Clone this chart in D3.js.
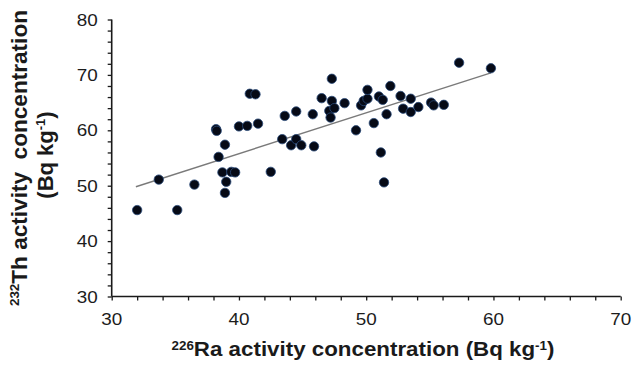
<!DOCTYPE html>
<html>
<head>
<meta charset="utf-8">
<script src="https://cdn.jsdelivr.net/npm/d3@7"></script>
<style>
  html, body { margin: 0; padding: 0; background: #fff; }
  svg { display: block; font-family: "Liberation Sans", Arial, sans-serif; }
</style>
</head>
<body>
<svg id="chart" width="633" height="365"></svg>
<script>
// 226Ra activity concentration (Bq/kg)
const raValues = [32.0, 33.7, 35.15, 36.5, 38.2, 38.25, 38.4, 38.9, 38.7, 39.0, 38.9, 39.4, 39.7,
  40.0, 40.65, 40.85, 41.3, 41.5, 42.5, 43.4, 43.6, 44.1, 44.5, 44.5, 44.9, 45.8, 45.9,
  46.5, 47.3, 47.3, 47.1, 47.5, 47.2, 48.3, 49.2, 49.6, 49.8, 50.1, 50.1, 50.6, 51.0,
  51.3, 51.6, 51.15, 51.4, 51.9, 52.7, 52.9, 53.5, 53.5, 54.1, 55.1, 55.3, 56.1, 57.3, 59.8];
// 232Th activity concentration (Bq/kg)
const thValues = [45.6, 51.1, 45.6, 50.2, 60.2, 59.9, 55.2, 57.4, 52.4, 50.7, 48.7, 52.5, 52.4,
  60.7, 60.8, 66.6, 66.5, 61.2, 52.5, 58.4, 62.6, 57.3, 58.4, 63.4, 57.3, 62.9, 57.1,
  65.8, 69.3, 65.3, 63.5, 64.0, 62.3, 64.9, 60.0, 64.5, 65.3, 65.7, 67.3, 61.3, 66.1,
  65.5, 62.9, 56.0, 50.6, 68.0, 66.2, 63.9, 65.7, 63.3, 64.2, 65.0, 64.5, 64.6, 72.2, 71.2];
// Linear trend line: Th = intercept + slope * Ra
const trendRange = [31.9, 59.8];
const trendSlope = 0.737;
const trendIntercept = 26.3;

const xTicks = [30, 40, 50, 60, 70];
const yTicks = [30, 40, 50, 60, 70, 80];
const xMinorTicks = d3.range(30, 70.1, 2);
const yMinorTicks = d3.range(30, 80.1, 2);

const svg = d3.select("#chart");
const x = d3.scaleLinear().domain([30, 70]).range([111.7, 620.7]);
const y = d3.scaleLinear().domain([30, 80]).range([296.5, 19.5]);

const axisColor = "#1a1a1a";

// X axis
const gx = svg.append("g").attr("transform", `translate(0,${y(30)})`);
gx.call(d3.axisBottom(x).tickValues(xMinorTicks).tickSize(4).tickFormat(""));
gx.selectAll("path.domain").remove();
gx.selectAll("line").attr("stroke", axisColor).attr("stroke-width", 1.3);
gx.append("line").attr("x1", x(30)).attr("x2", x(70)).attr("stroke", axisColor).attr("stroke-width", 1.6);
gx.selectAll("text.tl").data(xTicks).enter().append("text").attr("class", "tl")
  .attr("x", d => x(d)).attr("y", 28).attr("text-anchor", "middle")
  .attr("font-size", 17).attr("fill", "#1c1c1c")
  .attr("textLength", 21).attr("lengthAdjust", "spacingAndGlyphs").text(d => d);

// Y axis
const gy = svg.append("g").attr("transform", `translate(${x(30)},0)`);
gy.call(d3.axisLeft(y).tickValues(yMinorTicks).tickSize(4).tickFormat(""));
gy.selectAll("path.domain").remove();
gy.selectAll("line").attr("stroke", axisColor).attr("stroke-width", 1.3);
gy.append("line").attr("y1", y(30)).attr("y2", y(80)).attr("stroke", axisColor).attr("stroke-width", 1.6);
gy.selectAll("text.tl").data(yTicks).enter().append("text").attr("class", "tl")
  .attr("x", -14).attr("y", d => y(d)).attr("dy", "0.36em").attr("text-anchor", "end")
  .attr("font-size", 17).attr("fill", "#1c1c1c")
  .attr("textLength", 21).attr("lengthAdjust", "spacingAndGlyphs").text(d => d);

// Trend line
svg.append("line")
  .attr("x1", x(trendRange[0])).attr("y1", y(trendIntercept + trendSlope * trendRange[0]))
  .attr("x2", x(trendRange[1])).attr("y2", y(trendIntercept + trendSlope * trendRange[1]))
  .attr("stroke", "#7a7a7a").attr("stroke-width", 1.4);

// Points
const pts = raValues.map((r, i) => ({ r, t: thValues[i] }));
svg.append("g").selectAll("circle").data(pts).enter().append("circle")
  .attr("cx", d => x(d.r)).attr("cy", d => y(d.t)).attr("r", 4.7)
  .attr("fill", "#060a16").attr("stroke", "#2a4a7a").attr("stroke-width", 0.8);

// X title
const xt = svg.append("text").attr("x", 363).attr("y", 356).attr("text-anchor", "middle")
  .attr("font-size", 20).attr("font-weight", "bold").attr("fill", "#1a1a1a");
xt.append("tspan").attr("font-size", 12).attr("dy", -6).text("226");
xt.append("tspan").attr("dy", 6).text("Ra activity concentration (Bq kg");
xt.append("tspan").attr("font-size", 12).attr("dy", -6).text("-1");
xt.append("tspan").attr("dy", 6).text(")");
xt.attr("textLength", 383).attr("lengthAdjust", "spacingAndGlyphs");

// Y title (two lines, rotated)
const yt1 = svg.append("text").attr("transform", "translate(27,158) rotate(-90)")
  .attr("text-anchor", "middle").attr("font-size", 22).attr("font-weight", "bold").attr("fill", "#1a1a1a");
yt1.append("tspan").attr("font-size", 13).attr("dy", -8).text("232");
yt1.append("tspan").attr("dy", 8).text("Th activity\u00a0 concentration");
yt1.attr("textLength", 296).attr("lengthAdjust", "spacingAndGlyphs");

const yt2 = svg.append("text").attr("transform", "translate(53,155) rotate(-90)")
  .attr("text-anchor", "middle").attr("font-size", 22).attr("font-weight", "bold").attr("fill", "#1a1a1a");
yt2.append("tspan").text("(Bq kg");
yt2.append("tspan").attr("font-size", 13).attr("dy", -8).text("-1");
yt2.append("tspan").attr("dy", 8).text(")");
</script>
</body>
</html>
